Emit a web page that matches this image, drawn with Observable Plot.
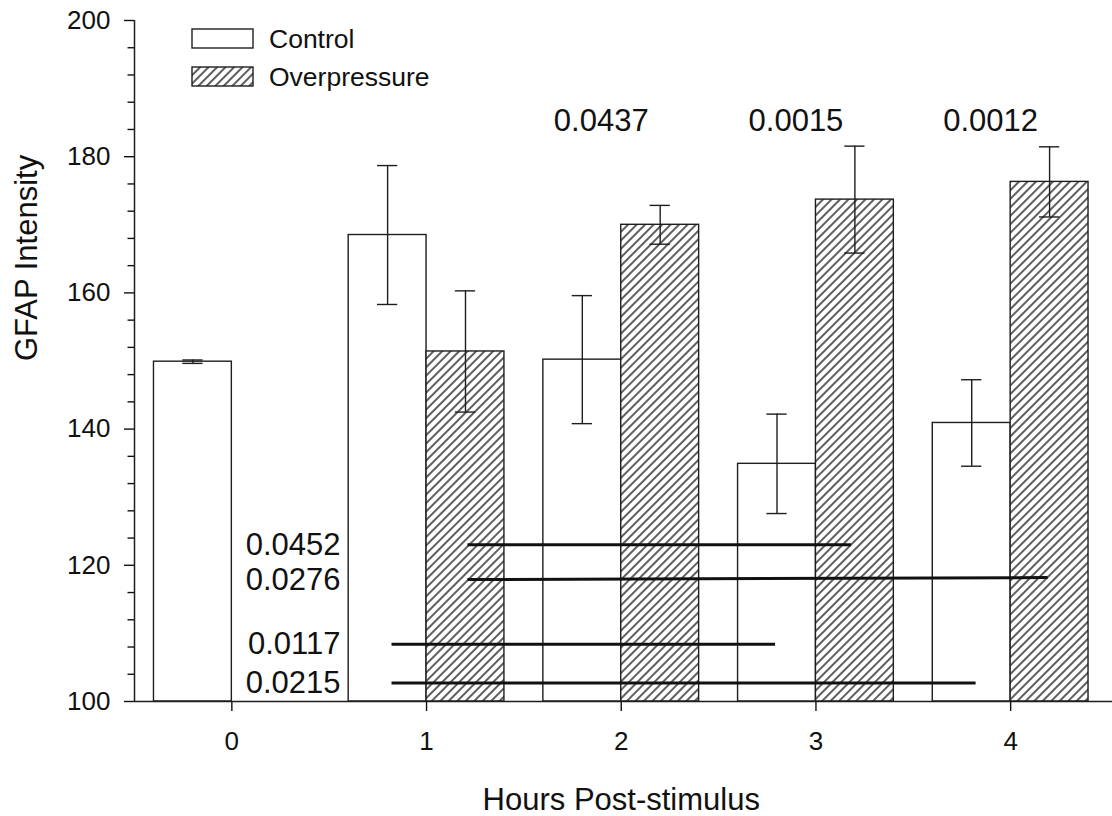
<!DOCTYPE html>
<html>
<head>
<meta charset="utf-8">
<script src="https://cdn.jsdelivr.net/npm/d3@7"></script>
<script src="https://cdn.jsdelivr.net/npm/@observablehq/plot@0.6"></script>
<style>
html, body { margin: 0; padding: 0; background: #fff; }
#wrap { position: relative; width: 1112px; height: 816px; }
#wrap svg.overlay { position: absolute; left: 0; top: 0; pointer-events: none; }
</style>
</head>
<body>
<div id="wrap"></div>
<script>
// ---- data ----
const hours = [0, 1, 2, 3, 4];
const seriesNames = ["Control", "Overpressure"];
const controlMean = [149.9, 168.5, 150.2, 134.9, 140.9];
const controlErr = [0.25, 10.2, 9.4, 7.3, 6.35];
const overMean = [null, 151.4, 170.0, 173.7, 176.3];
const overErr = [null, 8.9, 2.85, 7.85, 5.15];

// p-values above the bars
const pHours = [2, 3, 4];
const pLabels = ["0.0437", "0.0015", "0.0012"];
const pValueY = [185.2, 185.2, 185.2];

// significance lines
const sigLabels = ["0.0452", "0.0276", "0.0117", "0.0215"];
const sigFrom = [1.21, 1.21, 0.82, 0.82];
const sigTo = [3.18, 4.19, 2.79, 3.82];
const sigYStart = [123.0, 117.9, 108.4, 102.7];
const sigYEnd = [123.0, 118.2, 108.4, 102.7];

// ticks
const xTicks = [0, 1, 2, 3, 4];
const xTickLabels = ["0", "1", "2", "3", "4"];
const yTicks = [100, 120, 140, 160, 180, 200];
const yTickLabels = ["100", "120", "140", "160", "180", "200"];
const yMinorTicks = d3.range(100, 201, 4).filter(v => !yTicks.includes(v));

// ---- build table ----
const barW = 0.4;
const cap = 0.052;
const bars = [];
hours.forEach((h, i) => {
  bars.push({series: seriesNames[0], x1: h - barW, x2: h, xc: h - barW / 2, y: controlMean[i], e: controlErr[i]});
  if (overMean[i] != null)
    bars.push({series: seriesNames[1], x1: h, x2: h + barW, xc: h + barW / 2, y: overMean[i], e: overErr[i]});
});
const ctrlBars = bars.filter(d => d.series === seriesNames[0]);
const overBars = bars.filter(d => d.series === seriesNames[1]);
const sigIdx = d3.range(sigLabels.length);
const pIdx = d3.range(pLabels.length);
const sigLabelX = 0.558;
const xDomain = [-0.5, 4.5];

const ink = "#1e1e1e";
const font = "'Liberation Sans', Arial, Helvetica, sans-serif";

const chart = Plot.plot({
  width: 1112,
  height: 816,
  marginLeft: 134,
  marginRight: 4.5,
  marginTop: 20,
  marginBottom: 115,
  style: {fontFamily: font, fontSize: "26px", color: "#111", background: "#fff"},
  x: {type: "linear", domain: xDomain, label: null},
  y: {type: "linear", domain: [100, 200], label: null},
  marks: [
    Plot.rect(ctrlBars, {x1: "x1", x2: "x2", y1: 100, y2: "y", fill: "white", stroke: ink, strokeWidth: 1.4}),
    Plot.rect(overBars, {x1: "x1", x2: "x2", y1: 100, y2: "y", fill: "url(#hatchOP)", stroke: ink, strokeWidth: 1.4}),
    Plot.ruleX(bars, {x: "xc", y1: d => d.y - d.e, y2: d => d.y + d.e, stroke: ink, strokeWidth: 1.4}),
    Plot.ruleY(bars, {y: d => d.y + d.e, x1: d => d.xc - cap, x2: d => d.xc + cap, stroke: ink, strokeWidth: 1.4}),
    Plot.ruleY(bars, {y: d => d.y - d.e, x1: d => d.xc - cap, x2: d => d.xc + cap, stroke: ink, strokeWidth: 1.4}),
    Plot.link(sigIdx, {
      x1: i => sigFrom[i], y1: i => sigYStart[i],
      x2: i => sigTo[i], y2: i => sigYEnd[i],
      stroke: "#111", strokeWidth: 3
    }),
    Plot.text(sigIdx, {
      x: i => sigLabelX, y: i => sigYStart[i], text: i => sigLabels[i],
      textAnchor: "end", lineAnchor: "middle", fontSize: 31, fill: "#111"
    }),
    Plot.text(pIdx, {
      x: i => pHours[i], y: i => pValueY[i], text: i => pLabels[i],
      dx: -20, lineAnchor: "middle", fontSize: 31, fill: "#111"
    }),
    Plot.axisY(yTicks, {tickSize: 10, tickPadding: 14, fontSize: 26, label: null, strokeWidth: 1.4,
      tickFormat: v => yTickLabels[yTicks.indexOf(v)]}),
    Plot.axisY(yMinorTicks, {tickSize: 6.5, tickFormat: () => "", label: null, strokeWidth: 1.4}),
    Plot.axisX(xTicks, {tickSize: 10, tickPadding: 20, fontSize: 26, label: null, strokeWidth: 1.4,
      tickFormat: v => xTickLabels[xTicks.indexOf(v)]}),
    Plot.ruleX([xDomain[0]], {stroke: ink, strokeWidth: 1.5}),
    Plot.ruleY([100], {x1: xDomain[0], x2: xDomain[1] + 0.023, stroke: ink, strokeWidth: 1.5}),
    Plot.text(["GFAP Intensity"], {frameAnchor: "left", rotate: -90, dx: -107, lineAnchor: "middle", fontSize: 31, fill: "#111"}),
    Plot.text(["Hours Post-stimulus"], {frameAnchor: "bottom", dy: 99, lineAnchor: "middle", fontSize: 31, fill: "#111"})
  ]
});

// hatch pattern definition
const ns = "http://www.w3.org/2000/svg";
const defs = document.createElementNS(ns, "defs");
defs.innerHTML = `<pattern id="hatchOP" patternUnits="userSpaceOnUse" width="6" height="6" patternTransform="rotate(45)">
  <rect width="6" height="6" fill="white"></rect>
  <line x1="3" y1="-1" x2="3" y2="7" stroke="#111" stroke-width="1.35"></line>
</pattern>`;
chart.insertBefore(defs, chart.firstChild);

const wrap = document.getElementById("wrap");
wrap.appendChild(chart);

// legend overlay
const leg = d3.select(wrap).append("svg")
  .attr("class", "overlay")
  .attr("width", 1112).attr("height", 110);
const legFills = ["white", "url(#hatchOP)"];
seriesNames.forEach((name, i) => {
  const top = 29 + i * 38;
  leg.append("rect")
    .attr("x", 192).attr("y", top).attr("width", 61).attr("height", 19)
    .attr("fill", legFills[i]).attr("stroke", ink).attr("stroke-width", 1.4);
  leg.append("text")
    .attr("x", 269).attr("y", top + 19)
    .attr("font-family", font).attr("font-size", 26.5).attr("fill", "#111")
    .text(name);
});
</script>
</body>
</html>
